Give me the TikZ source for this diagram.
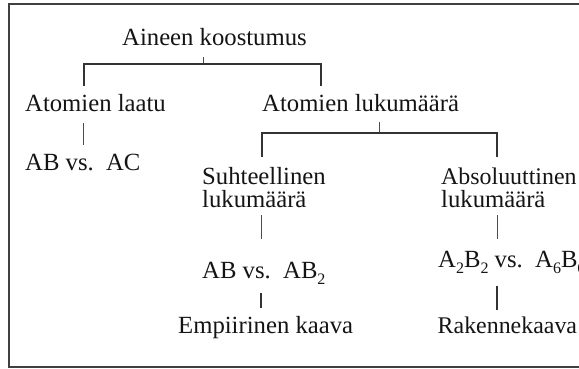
\documentclass[tikz,border=0pt]{standalone}
\usepackage{fontspec}
\setmainfont{Liberation Serif}
\newcommand\mysub[1]{\raisebox{-6.5pt}{\fontsize{16}{16}\selectfont #1}}
\begin{document}
\begin{tikzpicture}[x=1pt,y=-1pt,
  lbl/.style={anchor=base west, inner sep=0pt, font=\fontsize{24.7}{23}\selectfont, text=black!92},
  lblr/.style={lbl, font=\fontsize{23.9}{23}\selectfont},
  conn/.style={draw=black!80, line width=1.2pt},
  thin/.style={draw=black!70, line width=0.9pt}]
\useasboundingbox (0,0) rectangle (579,369);
\clip (0,0) rectangle (579,369);
\draw[line width=2.4pt, black!75] (640,4) -| (9,367) -- (640,367);

\node[lbl] (root) at (122,46) {Aineen koostumus};
\node[lbl] (laatu) at (25,111) {Atomien laatu};
\node[lbl] (luku) at (262,111) {Atomien lukumäärä};
\node[lbl] (abac) at (25,170) {AB vs.\ \ AC};
\node[lbl] (suht) at (202,184) {Suhteellinen};
\node[lbl] (suhtb) at (202,207) {lukumäärä};
\node[lbl] (abab) at (202,278) {AB vs.\ \ AB\mysub{2}};
\node[lbl] (emp) at (178,333) {Empiirinen kaava};
\node[lblr] (abs) at (441,184) {Absoluuttinen};
\node[lbl] (absb) at (441,207) {lukumäärä};
\node[lbl] (a2b2) at (438,267) {A\mysub{2}B\mysub{2} vs.\ \ A\mysub{6}B\mysub{6}};
\node[lblr] (rak) at (437.5,333) {Rakennekaava};

% root connectors
\coordinate (r1) at (203,57);
\coordinate (r2) at (203,64);
\coordinate (bl) at (84,86);
\coordinate (br) at (321,86);
\draw[thin] (r1) -- (r2);
\draw[conn] (bl) |- (r2) -| (br);

% laatu -> abac
\coordinate (la1) at (83,123);
\coordinate (la2) at (83,145);
\draw[thin] (la1) -- (la2);

% luku connectors
\coordinate (l1) at (379,122);
\coordinate (l2) at (379,133);
\coordinate (ll) at (262,157);
\coordinate (lr) at (497,157);
\draw[thin] (l1) -- (l2);
\draw[conn] (ll) |- (l2) -| (lr);

% left column
\coordinate (s1) at (261,215);
\coordinate (s2) at (261,239);
\coordinate (s3) at (261,293);
\coordinate (s4) at (261,308);
\draw[thin] (s1) -- (s2);
\draw[conn] (s3) -- (s4);

% right column
\coordinate (a1) at (497,215);
\coordinate (a2) at (497,239);
\coordinate (a3) at (497,286);
\coordinate (a4) at (497,310);
\draw[thin] (a1) -- (a2);
\draw[conn] (a3) -- (a4);
\end{tikzpicture}
\end{document}
